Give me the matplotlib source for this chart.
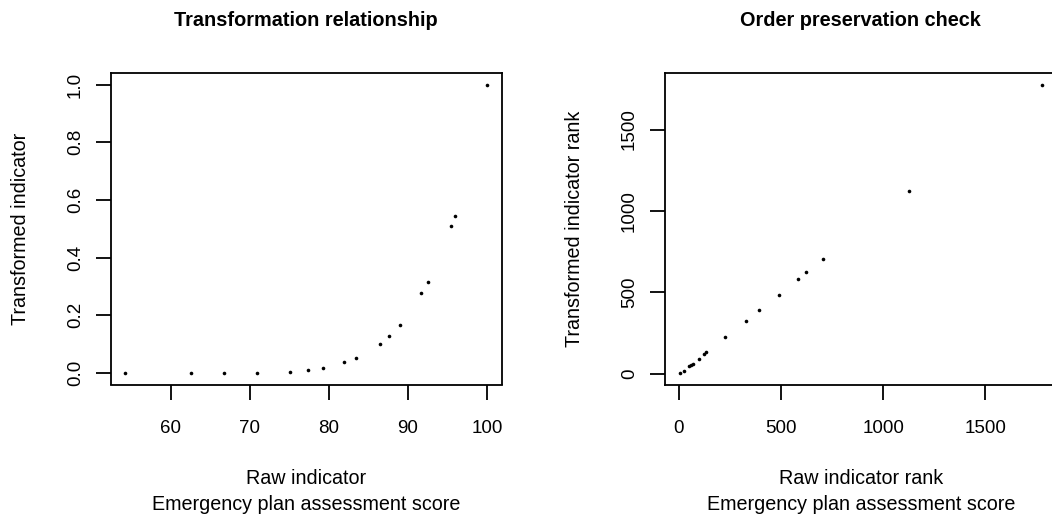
import matplotlib
matplotlib.use("Agg")
import matplotlib.pyplot as plt
import numpy as np

plt.rcParams['font.family'] = ['Liberation Sans', 'DejaVu Sans']

# Left panel: raw score vs transformed indicator
raw_score = [54.3, 62.6, 66.75, 70.9, 75.05, 77.4, 79.25, 81.9, 83.4, 86.45,
             87.6, 89.0, 91.7, 92.6, 95.5, 95.95, 100.0]
transformed = [0.0, 0.0, 0.0, 0.0, 0.005, 0.0115, 0.018, 0.038, 0.053, 0.101,
               0.129, 0.167, 0.276, 0.317, 0.511, 0.544, 1.0]

# Right panel: ranks
raw_rank = [3, 26, 49, 59, 69, 98, 122, 131, 227, 327, 393, 488, 581, 624, 708, 1129, 1778]
trans_rank = [2, 20, 45, 53, 61, 92, 119, 131, 225, 326, 389, 486, 580, 623, 707, 1125, 1776]

left_xticks = [60, 70, 80, 90, 100]
left_yticks = [0.0, 0.2, 0.4, 0.6, 0.8, 1.0]
right_ticks = [0, 500, 1000, 1500]

titles = ["Transformation relationship", "Order preservation check"]
xlabels = ["Raw indicator", "Raw indicator rank"]
ylabels = ["Transformed indicator", "Transformed indicator rank"]
subtitle = "Emergency plan assessment score"

W, H = 1052, 523
fig = plt.figure(figsize=(W / 100, H / 100), dpi=100)

def rlim(v):
    lo, hi = min(v), max(v)
    p = 0.04 * (hi - lo)
    return lo - p, hi + p

def px_axes(x0, x1, y0, y1):
    return fig.add_axes([x0 / W, 1 - y1 / H, (x1 - x0) / W, (y1 - y0) / H])

ax1 = px_axes(111, 501.5, 73, 384.5)
ax2 = px_axes(665, 1056.5, 73, 385)

panels = [
    (ax1, raw_score, transformed, left_xticks, left_yticks, ["60", "70", "80", "90", "100"],
     ["0.0", "0.2", "0.4", "0.6", "0.8", "1.0"]),
    (ax2, raw_rank, trans_rank, right_ticks, right_ticks, ["0", "500", "1000", "1500"],
     ["0", "500", "1000", "1500"]),
]

fs = 13.5
lfs = 14.2
for i, (ax, xs, ys, xt, yt, xtl, ytl) in enumerate(panels):
    ax.plot(xs, ys, 'o', color='black', markersize=2.6, markeredgewidth=0)
    ax.set_xlim(*rlim(xs))
    ax.set_ylim(*rlim(ys))
    ax.set_xticks(xt)
    ax.set_xticklabels(xtl, fontsize=fs)
    ax.set_yticks(yt)
    ax.set_yticklabels(ytl, fontsize=fs, rotation=90, va='center')
    ax.tick_params(axis='both', direction='out', length=10.5, width=1.3, colors='black')
    ax.tick_params(axis='x', pad=15)
    ax.tick_params(axis='y', pad=9)
    for s in ax.spines.values():
        s.set_linewidth(1.3)
        s.set_color('black')
    bb = ax.get_position()
    cx = (bb.x0 + bb.x1) / 2
    fig.text(cx, 1 - 20 / H, titles[i], ha='center', va='center', fontsize=14.3, fontweight='bold')
    fig.text(cx, 1 - 479 / H, xlabels[i], ha='center', va='center', fontsize=lfs)
    fig.text(cx, 1 - 505 / H, subtitle, ha='center', va='center', fontsize=lfs)
    ylx = [21, 575][i]
    fig.text(ylx / W, (bb.y0 + bb.y1) / 2, ylabels[i], ha='center', va='center',
             rotation=90, fontsize=lfs)

fig.savefig("out.png", dpi=100)
